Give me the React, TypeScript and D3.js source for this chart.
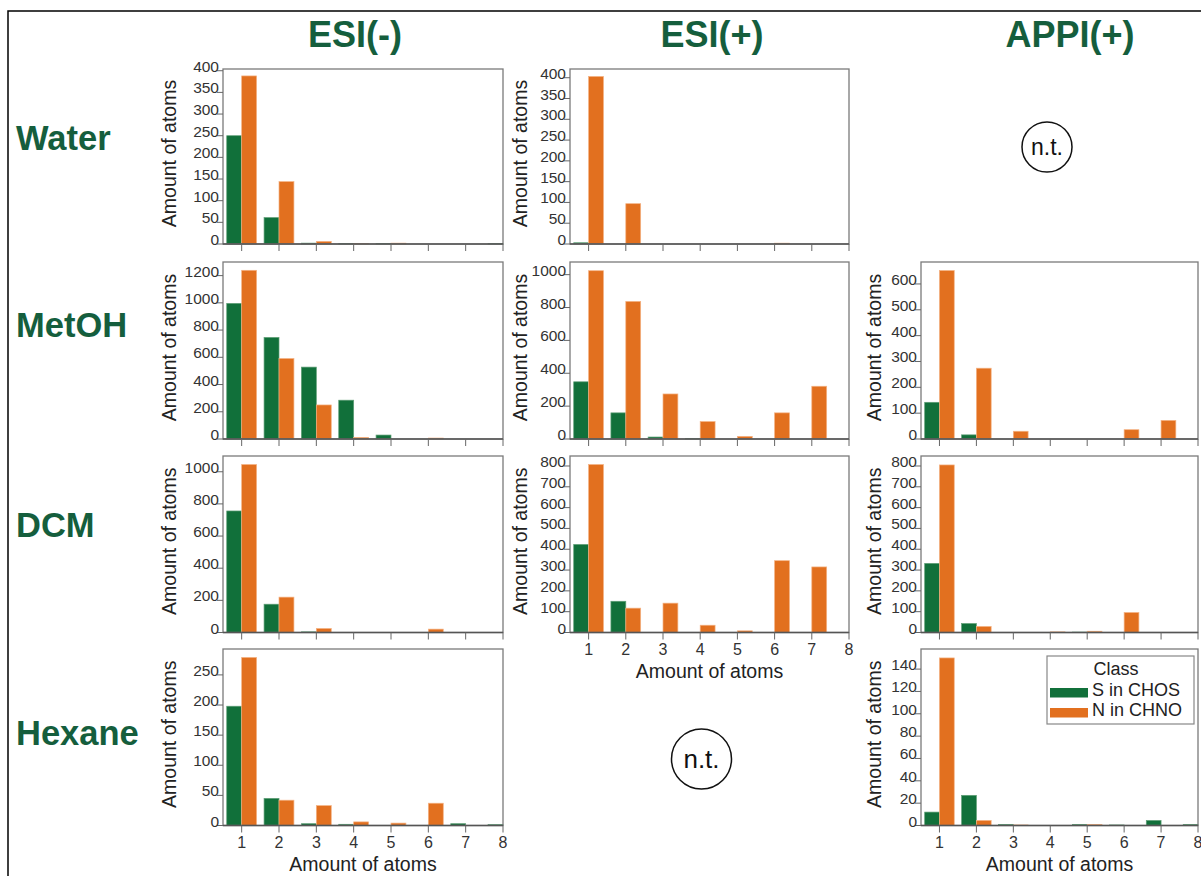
import React from "react";
import * as d3 from "d3";

// Number of heteroatoms per formula (x categories)
const atoms = [1, 2, 3, 4, 5, 6, 7, 8];

// Ionisation modes (columns) and solvents (rows)
const modes = ["ESI(-)", "ESI(+)", "APPI(+)"];
const solvents = ["Water", "MetOH", "DCM", "Hexane"];

// Series: S in CHOS (green) and N in CHNO (orange), per panel
const esiNegWaterS = [250, 61, 2, 1, 1, 0, 0, 1];
const esiNegWaterN = [388, 144, 6, 1, 2, 0, 0, 0];
const esiPosWaterS = [3, 0, 0, 0, 0, 0, 0, 0];
const esiPosWaterN = [403, 97, 0, 0, 0, 2, 0, 0];

const esiNegMetohS = [996, 746, 528, 285, 29, 0, 0, 0];
const esiNegMetohN = [1239, 591, 250, 12, 0, 7, 0, 0];
const esiPosMetohS = [348, 159, 12, 4, 0, 0, 0, 0];
const esiPosMetohN = [1024, 837, 274, 106, 16, 159, 321, 0];
const appiMetohS = [142, 16, 0, 0, 0, 0, 0, 0];
const appiMetohN = [652, 274, 30, 0, 0, 36, 72, 0];

const esiNegDcmS = [756, 176, 4, 0, 0, 0, 0, 0];
const esiNegDcmN = [1045, 220, 25, 0, 0, 21, 0, 0];
const esiPosDcmS = [423, 150, 0, 0, 0, 0, 0, 0];
const esiPosDcmN = [807, 117, 141, 35, 8, 345, 315, 0];
const appiDcmS = [332, 43, 0, 0, 2, 0, 0, 0];
const appiDcmN = [805, 29, 0, 3, 6, 96, 0, 0];

const esiNegHexS = [198, 45, 3, 2, 0, 0, 3, 1.5];
const esiNegHexN = [279, 42, 33, 6, 4, 37, 0, 0];
const appiHexS = [12, 27, 1, 0, 1, 0.5, 4.5, 1];
const appiHexN = [150, 4.5, 0.5, 0, 1, 0, 0, 0];

const legendLabels = ["S in CHOS", "N in CHNO"];

type Panel = {
  row: number;
  col: number;
  s: number[];
  n: number[];
  yMax: number;
  yStep: number;
  xLabels: boolean;
};

const panels: Panel[] = [
  { row: 0, col: 0, s: esiNegWaterS, n: esiNegWaterN, yMax: 404, yStep: 50, xLabels: false },
  { row: 0, col: 1, s: esiPosWaterS, n: esiPosWaterN, yMax: 421, yStep: 50, xLabels: false },
  { row: 1, col: 0, s: esiNegMetohS, n: esiNegMetohN, yMax: 1300, yStep: 200, xLabels: false },
  { row: 1, col: 1, s: esiPosMetohS, n: esiPosMetohN, yMax: 1077, yStep: 200, xLabels: false },
  { row: 1, col: 2, s: appiMetohS, n: appiMetohN, yMax: 685, yStep: 100, xLabels: false },
  { row: 2, col: 0, s: esiNegDcmS, n: esiNegDcmN, yMax: 1098, yStep: 200, xLabels: false },
  { row: 2, col: 1, s: esiPosDcmS, n: esiPosDcmN, yMax: 848, yStep: 100, xLabels: true },
  { row: 2, col: 2, s: appiDcmS, n: appiDcmN, yMax: 848, yStep: 100, xLabels: false },
  { row: 3, col: 0, s: esiNegHexS, n: esiNegHexN, yMax: 293, yStep: 50, xLabels: true },
  { row: 3, col: 2, s: appiHexS, n: appiHexN, yMax: 158, yStep: 20, xLabels: true },
];

// Layout
const W = 1201;
const H = 876;
const colLeft = [223, 570, 921];
const colRight = [503, 849, 1198];
const colTitleOffset = [47, 43, 40];
const colHeaderX = [355, 712, 1070];
const rowTop = [69, 262, 456, 649];
const rowBottom = [244, 439, 632.5, 825.5];
const rowLabelY = [150, 337, 537, 745];

const GREEN = "#11703a";
const ORANGE = "#e2701f";
const TITLE_GREEN = "#155e3d";
const FONT = "'Liberation Sans', Arial, Helvetica, sans-serif";
const BAR_W = 0.4;

function PanelChart({ p }: { p: Panel }) {
  const x0 = colLeft[p.col];
  const x1 = colRight[p.col];
  const y0 = rowTop[p.row];
  const y1 = rowBottom[p.row];
  const x = d3.scaleLinear().domain([0.5, 8]).range([x0, x1]);
  const y = d3.scaleLinear().domain([0, p.yMax]).range([y1, y0]);
  const yTicks = d3.range(0, p.yMax + 0.001, p.yStep);

  return (
    <g>
      {/* bars */}
      {atoms.map((a, i) =>
        p.s[i] > 0 ? (
          <rect
            key={"s" + a}
            x={x(a - BAR_W)}
            y={y(p.s[i])}
            width={x(a) - x(a - BAR_W)}
            height={y(0) - y(p.s[i])}
            fill={GREEN}
            stroke="#5f9e76"
            strokeWidth={0.7}
          />
        ) : null
      )}
      {atoms.map((a, i) =>
        p.n[i] > 0 ? (
          <rect
            key={"n" + a}
            x={x(a)}
            y={y(p.n[i])}
            width={x(a + BAR_W) - x(a)}
            height={y(0) - y(p.n[i])}
            fill={ORANGE}
            stroke="#f4b283"
            strokeWidth={0.7}
          />
        ) : null
      )}
      {/* frame */}
      <rect x={x0} y={y0} width={x1 - x0} height={y1 - y0} fill="none" stroke="#7a7a7a" strokeWidth={1.3} />
      <line x1={x0} x2={x1} y1={y1} y2={y1} stroke="#555" strokeWidth={1.3} />
      {/* y axis */}
      {yTicks.map((t) => (
        <g key={"yt" + t}>
          <line x1={x0 - 6} x2={x0} y1={y(t)} y2={y(t)} stroke="#666" strokeWidth={1} />
          <text
            x={x0 - 4}
            y={y(t) + 1}
            textAnchor="end"
            fontSize={15.5}
            fontFamily={FONT}
            fill="#333"
          >
            {t}
          </text>
        </g>
      ))}
      <text
        transform={`translate(${x0 - colTitleOffset[p.col]},${(y0 + y1) / 2 - 3}) rotate(-90)`}
        textAnchor="middle"
        fontSize={19.5}
        fontFamily={FONT}
        fill="#222"
      >
        Amount of atoms
      </text>
      {/* x axis */}
      {atoms.map((a) => (
        <line key={"xt" + a} x1={x(a)} x2={x(a)} y1={y1} y2={y1 + 7} stroke="#666" strokeWidth={1} />
      ))}
      {p.xLabels &&
        atoms.map((a) => (
          <text
            key={"xl" + a}
            x={x(a)}
            y={y1 + 22.5}
            textAnchor="middle"
            fontSize={16}
            fontFamily={FONT}
            fill="#333"
          >
            {a}
          </text>
        ))}
      {p.xLabels && (
        <text
          x={(x0 + x1) / 2}
          y={y1 + 45}
          textAnchor="middle"
          fontSize={19.5}
          fontFamily={FONT}
          fill="#222"
        >
          Amount of atoms
        </text>
      )}
    </g>
  );
}

function NotTested({ cx, cy, r, size }: { cx: number; cy: number; r: number; size: number }) {
  return (
    <g>
      <circle cx={cx} cy={cy} r={r} fill="white" stroke="#111" strokeWidth={1.5} />
      <text x={cx} y={cy + size * 0.36} textAnchor="middle" fontSize={size} fontFamily={FONT} fill="#111">
        n.t.
      </text>
    </g>
  );
}

export default function App() {
  return (
    <svg
      width={W}
      height={H}
      viewBox={`0 0 ${W} ${H}`}
      style={{ position: "absolute", left: 0, top: 0, background: "white" }}
    >
      <rect x={0} y={0} width={W} height={H} fill="white" />
      {/* outer frame */}
      <rect x={8} y={11} width={W} height={H} fill="none" stroke="#000" strokeWidth={1.5} />

      {modes.map((m, i) => (
        <text
          key={m}
          x={colHeaderX[i]}
          y={47}
          textAnchor="middle"
          fontSize={36}
          fontWeight="bold"
          fontFamily={FONT}
          fill={TITLE_GREEN}
        >
          {m}
        </text>
      ))}
      {solvents.map((s, i) => (
        <text
          key={s}
          x={16}
          y={rowLabelY[i]}
          fontSize={34.5}
          fontWeight="bold"
          fontFamily={FONT}
          fill={TITLE_GREEN}
        >
          {s}
        </text>
      ))}

      {panels.map((p) => (
        <PanelChart key={p.row + "-" + p.col} p={p} />
      ))}

      <NotTested cx={1047} cy={147} r={25} size={23} />
      <NotTested cx={701.5} cy={759} r={30} size={26} />

      {/* legend */}
      <g>
        <rect x={1047} y={656} width={147} height={68} fill="white" stroke="#888" strokeWidth={1.2} />
        <text x={1116} y={675} textAnchor="middle" fontSize={18} fontFamily={FONT} fill="#222">
          Class
        </text>
        {legendLabels.map((l, i) => (
          <g key={l}>
            <rect x={1050} y={688 + i * 20} width={38} height={9.5} fill={i === 0 ? GREEN : ORANGE} />
            <text x={1092} y={696 + i * 20} fontSize={18} fontFamily={FONT} fill="#222">
              {l}
            </text>
          </g>
        ))}
      </g>
    </svg>
  );
}
